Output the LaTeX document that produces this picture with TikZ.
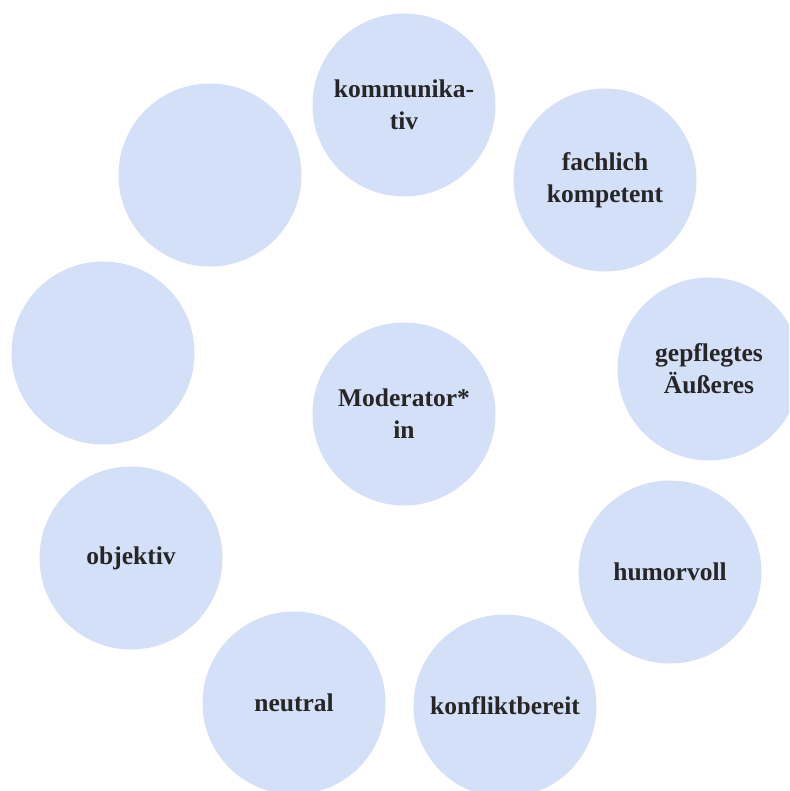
\documentclass[tikz,border=0pt]{standalone}
\usepackage{fontspec}
\setmainfont{Liberation Serif}
\definecolor{circfill}{HTML}{D4DFF8}
\definecolor{txt}{HTML}{262626}
\begin{document}
\begin{tikzpicture}[x=1pt,y=-1pt,
  bubble/.style={circle,fill=circfill,minimum size=183pt,inner sep=0pt,
    text=txt,font=\fontsize{25.5}{32}\selectfont\bfseries,align=center}]
\useasboundingbox (0,0) rectangle (789,791);
\clip (0,0) rectangle (789,791);
\node[bubble] (center) at (404,414) {Moderator*\\in};
\node[bubble] (komm) at (404,105) {kommunika-\\tiv};
\node[bubble] (fach) at (605,180) {fachlich\\kompetent};
\node[bubble] (gepf) at (709,369) {gepflegtes\\Äußeres};
\node[bubble] (humor) at (670,572) {humorvoll};
\node[bubble] (konf) at (505,706) {konfliktbereit};
\node[bubble] (neutral) at (294,703) {neutral};
\node[bubble] (obj) at (131,558) {objektiv};
\node[bubble] (empty1) at (103,353) {};
\node[bubble] (empty2) at (210,175) {};
\end{tikzpicture}
\end{document}
